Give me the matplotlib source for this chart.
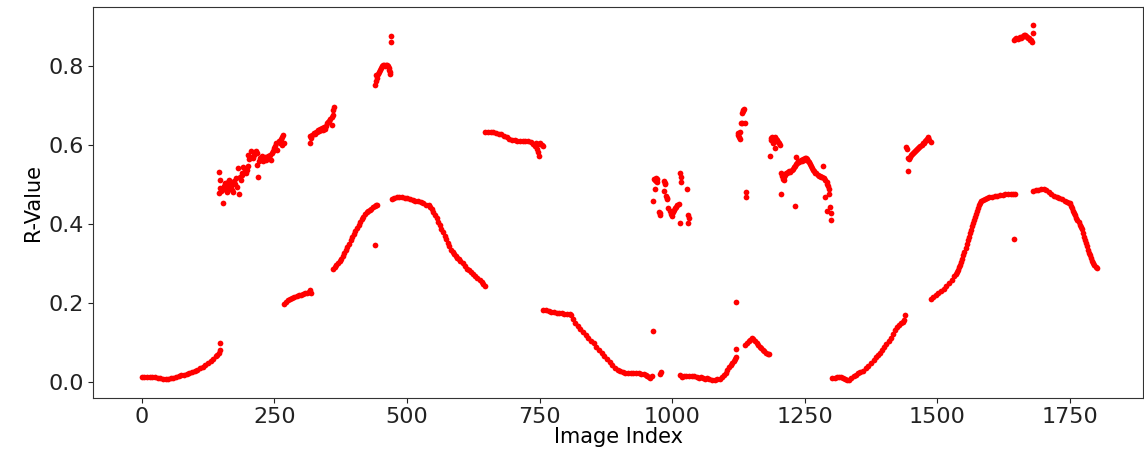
import matplotlib
matplotlib.use("Agg")
import matplotlib.pyplot as plt
import numpy as np

# lower branch as (image index, r-value)
seg_a = [(0, .012), (5, .012), (10, .012), (15, .012), (20, .012), (25, .011), (30, .010),
         (35, .009), (40, .008), (45, .008), (50, .008), (55, .009), (60, .010), (65, .012),
         (70, .014), (75, .016), (80, .018), (85, .020), (90, .022), (95, .025), (100, .028),
         (105, .031), (110, .034), (115, .038), (120, .042), (125, .047), (130, .052),
         (135, .058), (140, .064), (143, .068), (145, .072), (147, .080), (147, .097)]
seg_b = [(268, .197), (272, .202), (276, .206), (280, .210), (284, .213), (288, .215),
         (292, .217), (296, .219), (300, .221), (304, .222), (308, .224), (312, .226),
         (316, .228), (318, .232), (320, .225)]
seg_c = [(361, .287), (364, .291), (367, .295), (370, .300), (373, .306), (376, .312),
         (379, .319), (382, .326), (385, .334), (388, .342), (391, .350), (394, .358),
         (397, .366), (400, .374), (403, .382), (406, .390), (409, .398), (412, .405),
         (415, .412), (418, .418), (421, .424), (424, .429), (427, .433), (430, .436),
         (433, .439), (436, .442), (439, .445), (442, .447), (444, .449), (440, .347)]
seg_d = [(471, .463), (476, .466), (481, .468), (486, .468), (491, .467), (496, .466),
         (501, .465), (506, .463), (511, .461), (516, .459), (521, .457), (526, .455),
         (531, .452), (536, .449), (541, .447), (544, .444), (547, .438), (550, .431),
         (553, .423), (556, .415), (559, .406), (562, .397), (565, .388), (568, .379),
         (571, .370), (574, .361), (577, .352), (580, .343), (583, .335), (586, .328),
         (589, .323), (592, .318), (595, .314), (598, .310), (601, .306), (605, .300),
         (609, .293), (613, .287), (617, .282), (621, .277), (625, .273), (629, .269),
         (633, .264), (637, .258), (641, .252), (644, .247), (647, .243)]
seg_f = [(757, .183), (762, .181), (767, .179), (772, .177), (777, .176), (782, .175),
         (787, .174), (792, .173), (797, .172), (802, .172), (807, .171), (810, .168),
         (813, .158), (817, .150), (822, .142), (827, .134), (832, .127), (837, .119),
         (842, .111), (847, .104), (852, .097), (857, .089), (862, .081), (867, .073),
         (872, .066), (877, .058), (882, .050), (887, .043), (892, .036), (897, .030),
         (902, .026), (907, .024), (912, .023), (917, .023), (922, .022), (927, .022),
         (932, .021), (937, .021), (942, .020), (947, .019), (950, .017), (953, .015),
         (956, .012), (959, .010), (962, .014), (963, .128), (977, .020), (979, .024)]
seg_g = [(1015, .018), (1018, .012), (1022, .014), (1027, .015), (1032, .015), (1037, .014),
         (1042, .015), (1047, .013), (1050, .010), (1054, .012), (1058, .009), (1062, .008),
         (1066, .010), (1070, .006), (1075, .005), (1080, .005), (1085, .006), (1090, .008),
         (1094, .011), (1098, .016), (1101, .022), (1104, .030), (1107, .038), (1110, .043),
         (1113, .047), (1116, .052), (1119, .058), (1121, .062), (1120, .082), (1121, .201)]
seg_h = [(1138, .094), (1141, .098), (1144, .103), (1147, .107), (1150, .110), (1153, .109),
         (1156, .104), (1159, .099), (1162, .094), (1165, .089), (1168, .085), (1171, .081),
         (1174, .077), (1177, .074), (1180, .071), (1182, .070)]
seg_i = [(1302, .009), (1306, .010), (1310, .011), (1314, .012), (1318, .012), (1322, .009),
         (1326, .006), (1330, .004), (1334, .005), (1338, .010), (1342, .015), (1346, .018),
         (1350, .021), (1355, .024), (1360, .028), (1365, .034), (1370, .041), (1375, .048),
         (1380, .056), (1384, .062), (1388, .067), (1392, .073), (1396, .080), (1400, .087),
         (1404, .095), (1408, .104), (1412, .112), (1416, .121), (1420, .130), (1424, .138),
         (1428, .144), (1432, .148), (1435, .152), (1437, .157), (1438, .170)]
seg_j = [(1487, .209), (1492, .214), (1497, .219), (1502, .224), (1507, .229), (1512, .236),
         (1517, .243), (1522, .251), (1527, .259), (1532, .268), (1535, .274), (1537, .279),
         (1539, .284), (1541, .290), (1543, .296), (1545, .303), (1547, .311), (1549, .320),
         (1551, .330), (1553, .340), (1555, .349), (1557, .358), (1559, .367), (1561, .376),
         (1563, .385), (1565, .394), (1567, .402), (1569, .410), (1571, .418), (1573, .426),
         (1575, .433), (1577, .440), (1579, .447), (1581, .453), (1583, .458), (1585, .461),
         (1589, .463), (1593, .465), (1598, .467), (1603, .469), (1608, .471), (1613, .472),
         (1618, .473), (1623, .474), (1628, .475), (1633, .476), (1638, .477), (1643, .477),
         (1647, .477), (1645, .362)]
seg_k = [(1680, .484), (1685, .486), (1690, .487), (1695, .488), (1700, .488), (1705, .486),
         (1710, .482), (1715, .477), (1720, .472), (1725, .468), (1730, .465), (1735, .462),
         (1740, .459), (1745, .456), (1748, .454), (1750, .452), (1752, .446), (1754, .440),
         (1756, .434), (1758, .428), (1760, .422), (1762, .416), (1764, .410), (1766, .404),
         (1768, .398), (1770, .392), (1772, .386), (1774, .376), (1776, .367), (1778, .359),
         (1780, .351), (1782, .343), (1784, .335), (1786, .327), (1788, .320), (1790, .313),
         (1792, .306), (1794, .300), (1796, .295), (1798, .291), (1800, .289)]

# upper branch clusters
seg_u1 = [(145, .531), (146, .478), (147, .490), (148, .511), (150, .483), (152, .485),
          (154, .452), (155, .495), (157, .488), (158, .503), (160, .480), (161, .497),
          (163, .505), (164, .512), (166, .490), (168, .497), (170, .487), (171, .503),
          (173, .482), (175, .510), (176, .500), (178, .517), (180, .493), (182, .541),
          (183, .476), (185, .520), (187, .512), (189, .530), (190, .525), (192, .545),
          (194, .535), (195, .540), (197, .530), (199, .537), (200, .548), (201, .575),
          (203, .565), (205, .570), (207, .586), (209, .568), (211, .575), (213, .583),
          (215, .585), (217, .550), (218, .580), (220, .520), (222, .560), (224, .566),
          (226, .571), (228, .560), (230, .565), (232, .570), (234, .562), (236, .567),
          (238, .572), (240, .568), (242, .575), (244, .563), (246, .580), (248, .585),
          (250, .592), (252, .598), (254, .604), (256, .588), (258, .610), (260, .606),
          (262, .615), (264, .621), (265, .600), (266, .625), (268, .604)]
seg_u2 = [(317, .604), (318, .622), (320, .618), (322, .625), (324, .630), (326, .628),
          (328, .634), (330, .632), (332, .637), (334, .636), (336, .640), (338, .638),
          (340, .642), (342, .639), (344, .645), (346, .640), (348, .648), (350, .655),
          (352, .658), (354, .662), (356, .666), (358, .670), (359, .650), (360, .676),
          (361, .688), (362, .697)]
seg_u3 = [(440, .752), (441, .762), (442, .778), (443, .770), (445, .781), (447, .786),
          (449, .790), (451, .795), (453, .799), (455, .802), (457, .803), (459, .801),
          (461, .804), (463, .802), (465, .800), (466, .796), (467, .790), (468, .785),
          (469, .780), (470, .876), (470, .862)]
seg_e = [(648, .634), (653, .634), (658, .633), (663, .632), (668, .631), (673, .629),
         (678, .627), (683, .624), (688, .621), (693, .616), (698, .613), (703, .612),
         (708, .611), (713, .611), (718, .610), (723, .610), (728, .609), (733, .607),
         (738, .602), (741, .598), (744, .605), (748, .603), (751, .606), (754, .600),
         (757, .597), (745, .590), (748, .582), (749, .572)]
seg_u4 = [(964, .458), (966, .515), (967, .488), (968, .512), (969, .517), (970, .508),
          (971, .514), (972, .505), (975, .430), (977, .423), (978, .427), (984, .484),
          (985, .510), (986, .500), (987, .503), (988, .470), (990, .463), (991, .466),
          (993, .440), (995, .432), (997, .425), (999, .420), (1000, .428), (1002, .431),
          (1004, .436), (1006, .440), (1008, .444), (1010, .448), (1012, .451), (1015, .530),
          (1016, .518), (1016, .507), (1015, .403), (1028, .488), (1030, .423), (1031, .415),
          (1029, .403)]
seg_u5 = [(1124, .630), (1125, .625), (1126, .620), (1127, .615), (1128, .632), (1129, .655),
          (1131, .657), (1131, .680), (1133, .685), (1134, .689), (1136, .690), (1137, .657),
          (1139, .482), (1140, .468)]
seg_u6 = [(1185, .572), (1186, .612), (1187, .617), (1189, .620), (1190, .604), (1192, .610),
          (1193, .592), (1194, .621), (1196, .615), (1198, .612), (1200, .608), (1202, .604),
          (1204, .600), (1205, .528), (1206, .475), (1207, .522), (1208, .515), (1210, .511),
          (1211, .520), (1213, .525), (1215, .530), (1217, .528), (1219, .532), (1221, .535),
          (1223, .531), (1225, .537), (1227, .540), (1229, .545), (1231, .548), (1231, .445),
          (1233, .570), (1234, .552), (1236, .555), (1238, .560), (1240, .558), (1242, .562),
          (1244, .560), (1246, .565), (1248, .563), (1250, .567), (1252, .568), (1254, .565),
          (1256, .560), (1258, .556), (1260, .552), (1262, .548), (1264, .542), (1266, .537),
          (1268, .533), (1270, .530), (1272, .528), (1274, .524), (1276, .522), (1278, .521),
          (1280, .520), (1282, .520), (1285, .548), (1287, .516), (1289, .511), (1291, .507),
          (1292, .500), (1294, .495), (1295, .488), (1296, .475), (1288, .469), (1298, .442),
          (1291, .434), (1300, .427), (1299, .410)]
seg_u7 = [(1441, .595), (1443, .590), (1444, .535), (1445, .568), (1446, .565), (1448, .570),
          (1450, .574), (1452, .578), (1454, .579), (1456, .583), (1458, .586), (1460, .588),
          (1462, .590), (1464, .592), (1466, .596), (1468, .598), (1470, .600), (1472, .604),
          (1474, .606), (1476, .610), (1478, .612), (1480, .615), (1482, .618), (1483, .621),
          (1485, .612), (1487, .608)]
seg_u8 = [(1645, .866), (1647, .868), (1649, .870), (1651, .869), (1653, .871), (1655, .873),
          (1657, .872), (1659, .875), (1661, .877), (1663, .879), (1665, .878), (1667, .876),
          (1669, .874), (1671, .871), (1673, .870), (1675, .867), (1677, .866), (1679, .860),
          (1680, .883), (1681, .903)]

segments = [seg_a, seg_b, seg_c, seg_d, seg_f, seg_g, seg_h, seg_i, seg_j, seg_k,
            seg_u1, seg_u2, seg_u3, seg_e, seg_u4, seg_u5, seg_u6, seg_u7, seg_u8]
points = np.array([p for seg in segments for p in seg])
image_index = points[:, 0]
r_value = points[:, 1]

plt.rcParams["font.family"] = "DejaVu Sans"

fig = plt.figure(figsize=(11.44, 4.51), dpi=100)
ax = fig.add_axes((0.0816, 0.1168, 0.9173, 0.8670))

ax.scatter(image_index, r_value, s=17, color="red", linewidths=0)

ax.set_xlim(-91, 1887)
ax.set_ylim(-0.042, 0.949)
ax.set_xticks([0, 250, 500, 750, 1000, 1250, 1500, 1750])
ax.set_yticks([0.0, 0.2, 0.4, 0.6, 0.8])
ax.tick_params(labelsize=16, colors="#222222")
ax.tick_params(axis="x", pad=2.5)
for side in ax.spines.values():
    side.set_color("#333333")
ax.set_xlabel("Image Index", fontsize=15, labelpad=0)
ax.set_ylabel("R-Value", fontsize=15)

fig.savefig("out.png", dpi=100)
